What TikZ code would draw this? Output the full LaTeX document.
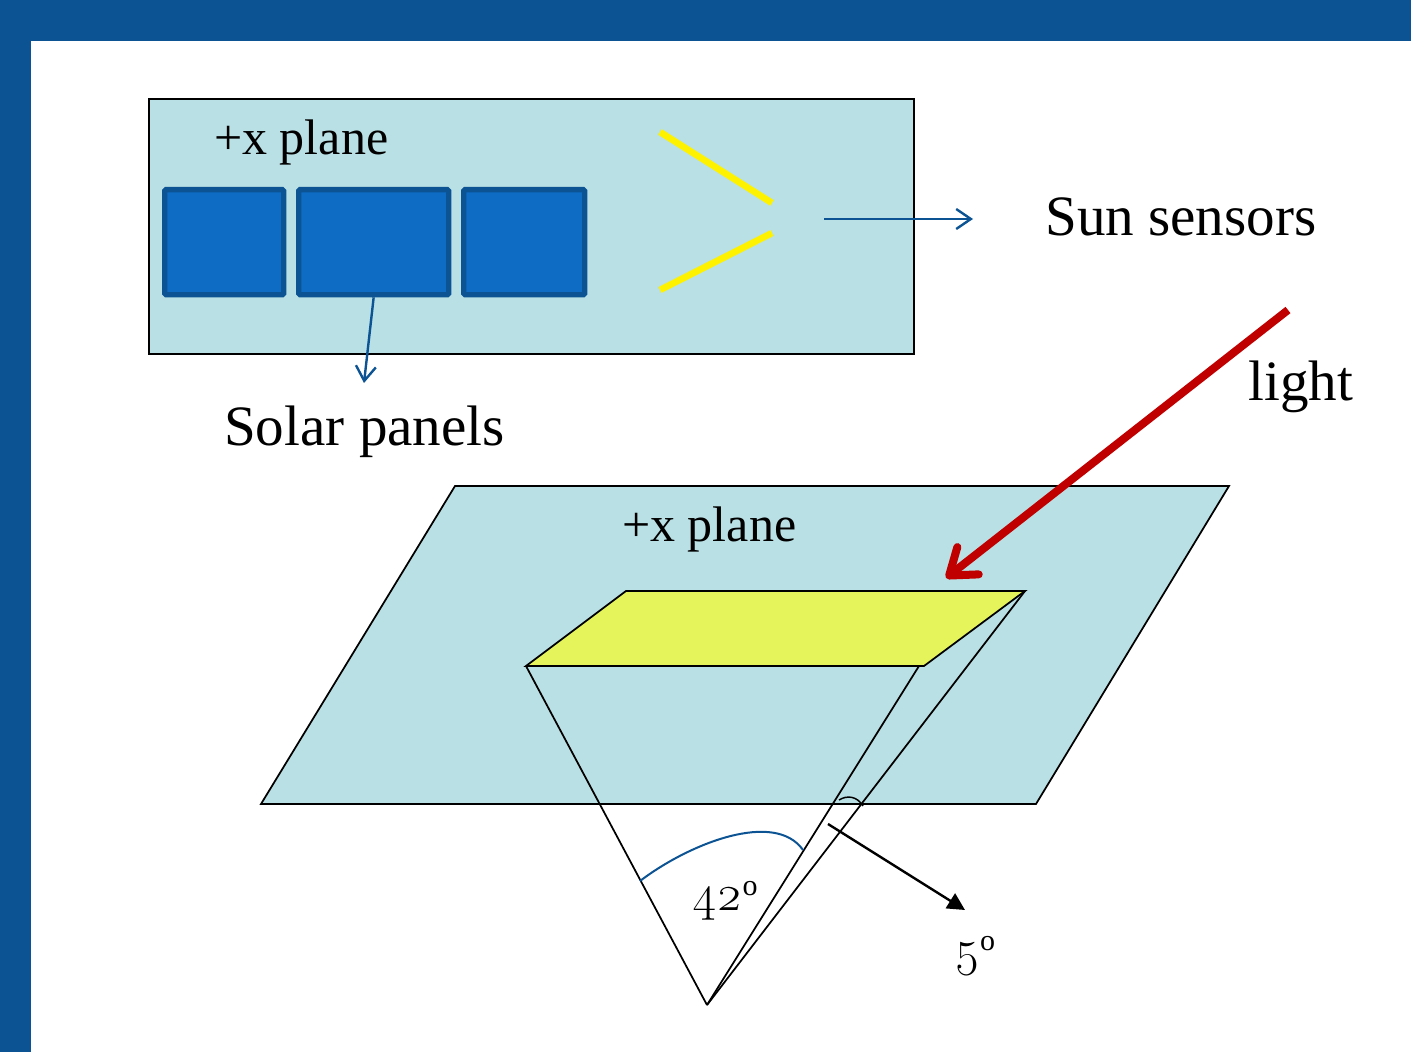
\documentclass[tikz,border=0pt]{standalone}
\usepackage{xcolor}
\usepackage{fontspec}
\setmainfont{Liberation Serif}
\newfontfamily\iOldFont[Numbers=OldStyle]{Latin Modern Roman}
\usetikzlibrary{arrows.meta}
\definecolor{iFrame}{HTML}{0C5394}
\definecolor{iPlane}{HTML}{B9E0E4}
\definecolor{iPanel}{HTML}{0F6CC4}
\definecolor{iFace}{HTML}{E4F45A}
\definecolor{iLight}{HTML}{C00000}
\newcommand{\iDeg}{\raisebox{11pt}{\fontsize{22.5}{26}\selectfont o}}
\tikzset{
  bigtext/.style={font=\fontsize{42.8}{50}\selectfont, anchor=base west, inner sep=0pt},
  smalltext/.style={font=\fontsize{37.5}{44}\selectfont, anchor=base west, inner sep=0pt},
  panelbox/.style={draw=iFrame, fill=iPanel, line width=4pt, rounded corners=1pt, anchor=north west, inner sep=0pt},
  planeline/.style={draw=black, line width=1.3pt},
  bluearrow/.style={draw=iFrame, line width=1.8pt, -{Straight Barb[length=11pt,width=15pt]}},
}
\begin{document}
\begin{tikzpicture}[x=0.75pt,y=-0.75pt]
\useasboundingbox (0,0) rectangle (1411,1052);

%% marco de la diapositiva %%%%%%%
\fill[iFrame] (0,0) rectangle (1411,41);
\fill[iFrame] (0,0) rectangle (31,1052);

%% plano de arriba %%%%%%%
\draw[planeline, fill=iPlane] (149,99) rectangle (914,354);
\node[smalltext] (planeTop) at (214,155) {+x plane};

% (x , ancho, nombre)
\foreach \iX/\iW/\iName in {162/119/panelA,296/150/panelB,461/121/panelC}{
\node[panelbox, minimum width=\iW*0.75pt, minimum height=105*0.75pt] (\iName) at (\iX,187) {};
}

%% sensores %%%%%%%
\draw[yellow, line width=5pt] (660,132) -- (772,203);
\draw[yellow, line width=5pt] (660,290) -- (772,233);

\coordinate (sensorEnd) at (824,219);
\coordinate (sensorTip) at (973,219);
\draw[bluearrow] (sensorEnd) -- (sensorTip);
\node[bigtext] (sensorLabel) at (1045,236) {Sun sensors};

\coordinate (panelTip) at (364,383);
\draw[bluearrow] (panelB.south) -- (panelTip);
\node[bigtext] (panelLabel) at (224,445) {Solar panels};

%% plano de abajo %%%%%%%
\coordinate (apex) at (707,1005);
\coordinate (faceA) at (526,666);
\coordinate (faceB) at (924,666);
\coordinate (faceC) at (1025,591);
\coordinate (faceD) at (626,591);
\coordinate (faceE) at (919,666);
\draw[planeline, fill=iPlane] (455,486) -- (1229,486) -- (1036,804) -- (261,804) -- cycle;
\node[smalltext] (planeLow) at (622,541) {+x plane};
\draw[planeline, fill=iFace] (faceD) -- (faceC) -- (faceB) -- (faceA) -- cycle;

\draw[planeline] (faceA) -- (apex);
\draw[planeline] (faceE) -- (apex);
\draw[planeline] (faceC) -- (apex);

%% los angulos %%%%%%%
\draw[iFrame, line width=1.5pt] (640,881) .. controls (690,843) and (775,810) .. (803,850);
\draw[black, line width=1.1pt] (839,800) .. controls (847,795) and (857,796) .. (863,806);
\node[smalltext] (angleBig) at (692,910) {{\iOldFont 42}\iDeg};

\coordinate (smallEnd) at (828,824);
\coordinate (smallTip) at (965,910);
\draw[line width=1.8pt, -{Triangle[length=13pt,width=13pt]}] (smallEnd) -- (smallTip);
\node[smalltext] (angleSmall) at (954,965) {{\iOldFont 5}\iDeg};

%% la luz %%%%%%%
\coordinate (lightEnd) at (1288,310);
\coordinate (lightTip) at (946,578);
\draw[iLight, line width=6pt, -{Straight Barb[length=18pt,width=26pt,round]}] (lightEnd) -- (lightTip);
\node[bigtext] (lightLabel) at (1248,400) {light};
\end{tikzpicture}
\end{document}
